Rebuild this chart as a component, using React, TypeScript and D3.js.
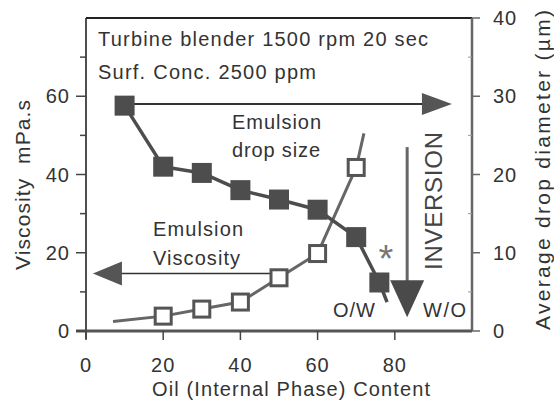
import React from 'react';
import * as d3 from 'd3';

// oil content (%) for the two measured series
const dropX = [10, 20, 30, 40, 50, 60, 70, 76];
const dropSize = [28.8, 21.0, 20.2, 18.0, 16.8, 15.5, 12.0, 6.2]; // µm, right axis
const dropTailX = [78];
const dropTail = [3.7];

const viscX = [20, 30, 40, 50, 60, 70];
const viscosity = [3.8, 5.6, 7.4, 13.6, 19.8, 41.8]; // mPa.s, left axis
const viscStartX = [7];
const viscStart = [2.4];
const viscEndX = [72];
const viscEnd = [50.5];

const xTicks = [0, 20, 40, 60, 80];
const leftTicks = [0, 20, 40, 60];
const leftMinor = [10, 30, 50, 70];
const rightTicks = [0, 10, 20, 30, 40];
const rightMinor = [5, 15, 25, 35];

const W = 554, H = 401;
const font = '"Liberation Sans", Arial, sans-serif';
const ink = '#333';

export default function App() {
  var x = d3.scaleLinear().domain([0, 100]).range([86, 472]);
  var yL = d3.scaleLinear().domain([0, 80]).range([331, 18]);
  var yR = d3.scaleLinear().domain([0, 40]).range([331, 18]);

  var dropPts: [number, number][] = dropX.map((d, i) => [d, dropSize[i]]);
  dropPts = dropPts.concat(dropTailX.map((d, i) => [d, dropTail[i]] as [number, number]));
  var viscPts: [number, number][] = viscStartX.map((d, i) => [d, viscStart[i]] as [number, number])
    .concat(viscX.map((d, i) => [d, viscosity[i]] as [number, number]))
    .concat(viscEndX.map((d, i) => [d, viscEnd[i]] as [number, number]));

  var dropLine = d3.line<[number, number]>().x(d => x(d[0])).y(d => yR(d[1]));
  var viscLine = d3.line<[number, number]>().x(d => x(d[0])).y(d => yL(d[1]));

  // arrows (data units)
  var topY = yR(29), topX0 = x(10), topX1 = x(94.8);
  var lY = yL(14.7), lX0 = x(50), lX1 = x(1.8);
  var invX = x(83.2), invY0 = yL(47), invY1 = yL(3.5);

  var txt = { fontFamily: font, fill: ink, fontSize: 20 } as any;
  var fit = (n: number) => ({ textLength: n, lengthAdjust: 'spacing' } as any);

  return (
    <svg width={W} height={H} style={{ position: 'absolute', left: 0, top: 0, background: '#fff' }}>
      {/* frame */}
      <line x1={x(0)} x2={x(100)} y1={yL(80)} y2={yL(80)} stroke="#222" strokeWidth={2} />
      <line x1={x(100)} x2={x(100)} y1={yL(80)} y2={yL(0)} stroke="#666" strokeWidth={2.5} />
      <line x1={x(0)} x2={x(0)} y1={yL(80)} y2={yL(0) + 8} stroke="#222" strokeWidth={1.6} />
      <line x1={x(0) - 10} x2={x(100)} y1={yL(0)} y2={yL(0)} stroke="#555" strokeWidth={3} />

      {/* left axis */}
      {leftTicks.map(t => (
        <g key={'l' + t}>
          <line x1={x(0) - 10} x2={x(0)} y1={yL(t)} y2={yL(t)} stroke="#444" strokeWidth={1.5} />
          <text x={x(0) - 16} y={yL(t)} dy="0.36em" textAnchor="end" {...txt} letterSpacing={1}>{t}</text>
        </g>
      ))}
      {leftMinor.map(t => (
        <line key={'lm' + t} x1={x(0) - 6} x2={x(0)} y1={yL(t)} y2={yL(t)} stroke="#444" strokeWidth={1.5} />
      ))}
      <text transform="translate(30,185) rotate(-90)" textAnchor="middle" {...txt} fontSize={21} {...fit(170)}>
        {'Viscosity\u00a0\u00a0mPa.s'}
      </text>

      {/* right axis */}
      {rightTicks.map(t => (
        <g key={'r' + t}>
          <line x1={x(100)} x2={x(100) + 8} y1={yR(t)} y2={yR(t)} stroke="#666" strokeWidth={1.5} />
          <text x={x(100) + 21} y={yR(t)} dy="0.36em" textAnchor="start" {...txt} letterSpacing={1}>{t}</text>
        </g>
      ))}
      {rightMinor.map(t => (
        <line key={'rm' + t} x1={x(100) - 4} x2={x(100)} y1={yR(t)} y2={yR(t)} stroke="#999" strokeWidth={1} />
      ))}
      <text transform="translate(550,170) rotate(-90)" textAnchor="middle" {...txt} fontSize={21} {...fit(320)}>
        Average drop diameter (µm)
      </text>

      {/* bottom axis */}
      {xTicks.map(t => (
        <g key={'x' + t}>
          <line x1={x(t)} x2={x(t)} y1={yL(0)} y2={yL(0) + 9} stroke="#444" strokeWidth={1.5} />
          <text x={x(t)} y={372} textAnchor="middle" {...txt} letterSpacing={1}>{t}</text>
        </g>
      ))}
      <text x={152} y={396} {...txt} {...fit(278)}>
        Oil (Internal Phase) Content
      </text>

      {/* conditions */}
      <text x={98} y={46} {...txt} {...fit(330)}>Turbine blender 1500 rpm 20 sec</text>
      <text x={98} y={79} {...txt} {...fit(218)}>Surf. Conc. 2500 ppm</text>

      {/* drop size arrow (to right axis) */}
      <line x1={topX0} x2={topX1 - 28} y1={topY} y2={topY} stroke="#333" strokeWidth={2} />
      <path d={`M${topX1},${topY}L${topX1 - 30},${topY - 11}L${topX1 - 30},${topY + 11}Z`} fill="#555" />

      {/* viscosity arrow (to left axis) */}
      <line x1={lX0} x2={lX1 + 28} y1={lY} y2={lY} stroke="#333" strokeWidth={1.6} />
      <path d={`M${lX1},${lY}L${lX1 + 29},${lY - 12}L${lX1 + 29},${lY + 12}Z`} fill="#555" />

      {/* inversion arrow */}
      <line x1={invX} x2={invX} y1={invY0} y2={invY1 - 35} stroke="#666" strokeWidth={3} />
      <path d={`M${invX},${invY1}L${invX - 17},${invY1 - 37}L${invX + 17},${invY1 - 37}Z`} fill="#4a4a4a" />
      <text transform="translate(442,201) rotate(-90)" textAnchor="middle" {...txt} fontSize={24} fill="#444" {...fit(138)}>
        INVERSION
      </text>

      {/* series lines */}
      <path d={viscLine(viscPts) || ''} fill="none" stroke="#666" strokeWidth={3} strokeLinejoin="round" />
      <path d={dropLine(dropPts) || ''} fill="none" stroke="#4d4d4d" strokeWidth={3.5} strokeLinejoin="round" />

      {/* markers */}
      {viscX.map((d, i) => (
        <rect key={'v' + i} x={x(d) - 8} y={yL(viscosity[i]) - 8} width={16} height={16}
          fill="#fff" stroke="#555" strokeWidth={3} />
      ))}
      {dropX.map((d, i) => (
        <rect key={'d' + i} x={x(d) - 10} y={yR(dropSize[i]) - 10} width={20} height={20} fill="#4d4d4d" />
      ))}

      {/* labels */}
      <text x={232} y={129} {...txt} {...fit(89)}>Emulsion</text>
      <text x={232} y={157} {...txt} {...fit(88)}>drop size</text>
      <text x={153} y={236} {...txt} {...fit(90)}>Emulsion</text>
      <text x={153} y={265} {...txt} {...fit(87)}>Viscosity</text>
      <text x={333} y={317} {...txt} {...fit(42)}>O/W</text>
      <text x={423} y={317} {...txt} {...fit(43)}>W/O</text>
      <text x={386} y={272} textAnchor="middle" fontFamily={font} fontSize={38} fill="#777">*</text>
    </svg>
  );
}
